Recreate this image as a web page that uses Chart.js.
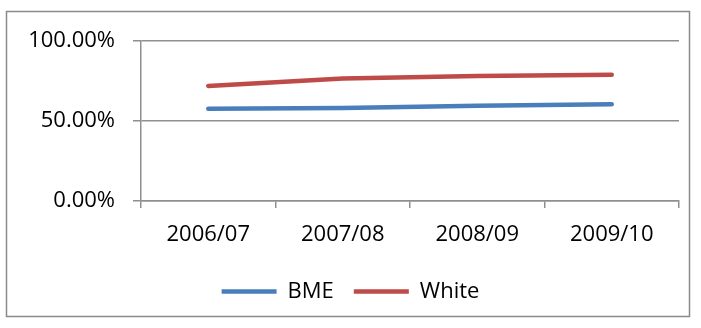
<!DOCTYPE html>
<html>
<head>
<meta charset="utf-8">
<script src="https://cdn.jsdelivr.net/npm/chart.js@4/dist/chart.umd.min.js"></script>
<style>
  body { margin: 0; background: #fff; }
  #wrap { width: 701px; height: 328px; }
</style>
</head>
<body>
<div id="wrap"><canvas id="myChart" width="701" height="328"></canvas></div>
<script>
// data
const years = ['2006/07', '2007/08', '2008/09', '2009/10'];
const bme = [57.6, 58.2, 59.6, 60.4];
const white = [71.9, 76.6, 78.1, 78.9];
const yTicks = [0, 50, 100];

const gridColor = '#8f8f8f';
const fontFam = "'Open Sans', sans-serif";

// outer frame like the excel chart area
const framePlugin = {
  id: 'frame',
  beforeDraw(chart) {
    const ctx = chart.ctx;
    ctx.save();
    ctx.fillStyle = '#fff';
    ctx.fillRect(0, 0, chart.width, chart.height);
    ctx.strokeStyle = '#8a8a8a';
    ctx.lineWidth = 1.5;
    ctx.strokeRect(6.5, 11.5, 683, 305);
    ctx.restore();
  }
};

document.addEventListener('DOMContentLoaded', function () {
  const canvas = document.getElementById('myChart').getContext('2d');
  const chart = new Chart(canvas, {
    type: 'line',
    data: {
      labels: years,
      datasets: [{
        label: 'BME',
        data: bme,
        borderColor: '#4A7EBB',
        backgroundColor: '#4A7EBB',
        borderWidth: 4.5,
        borderCapStyle: 'round',
        borderJoinStyle: 'round',
        pointRadius: 0,
        tension: 0
      }, {
        label: 'White',
        data: white,
        borderColor: '#BE4B48',
        backgroundColor: '#BE4B48',
        borderWidth: 4.5,
        borderCapStyle: 'round',
        borderJoinStyle: 'round',
        pointRadius: 0,
        tension: 0
      }]
    },
    options: {
      responsive: false,
      maintainAspectRatio: false,
      animation: false,
      layout: { padding: { top: 41, left: 22, right: 22, bottom: 15.5 } },
      plugins: {
        tooltip: { enabled: false },
        legend: {
          position: 'bottom',
          labels: {
            usePointStyle: true,
            pointStyle: 'line',
            pointStyleWidth: 55,
            padding: 20,
            color: '#000',
            font: { family: fontFam, size: 22 }
          }
        }
      },
      scales: {
        x: {
          offset: true,
          grid: {
            display: true,
            offset: true,
            drawOnChartArea: false,
            drawTicks: true,
            tickLength: 7,
            color: gridColor,
            lineWidth: 1.5
          },
          border: { display: true, color: gridColor, width: 1.5 },
          ticks: {
            color: '#000',
            padding: 14,
            maxRotation: 0,
            font: { family: fontFam, size: 22 }
          },
          afterFit: function (scale) { scale.height = 59.5; }
        },
        y: {
          min: 0,
          max: 100,
          afterBuildTicks: function (scale) {
            scale.ticks = yTicks.map(v => ({ value: v }));
          },
          grid: {
            color: gridColor,
            lineWidth: 1.5,
            tickLength: 8
          },
          border: { display: true, color: gridColor, width: 1.5 },
          ticks: {
            color: '#000',
            padding: 18,
            font: { family: fontFam, size: 22 },
            callback: v => v.toFixed(2) + '%'
          },
          afterFit: function (scale) { scale.width = 119; }
        }
      }
    },
    plugins: [framePlugin]
  });
});
</script>
</body>
</html>
